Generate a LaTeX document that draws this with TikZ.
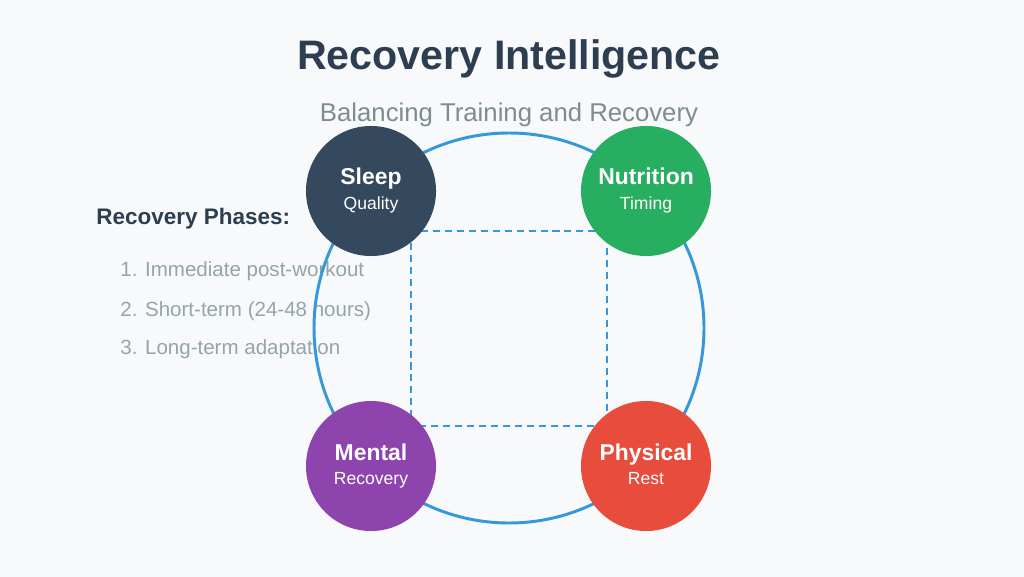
\documentclass[tikz,border=0pt]{standalone}
\usepackage{fontspec}
\setmainfont{Liberation Sans}
\definecolor{bgcol}{HTML}{F8F9FA}
\definecolor{darkcol}{HTML}{2C3E50}
\definecolor{greycol}{HTML}{7F8C8D}
\definecolor{listcol}{HTML}{95A5A6}
\definecolor{bluecol}{HTML}{3498DB}
\definecolor{sleepcol}{HTML}{34495E}
\definecolor{nutricol}{HTML}{27AE60}
\definecolor{mentalcol}{HTML}{8E44AD}
\definecolor{physcol}{HTML}{E74C3C}
\tikzset{
  pillar/.style={circle,minimum size=3.25cm,inner sep=0pt},
  phase/.style={anchor=west,text=listcol,font=\fontsize{14.6}{17}\selectfont}
}
\begin{document}
\begin{tikzpicture}[x=0.025cm,y=-0.025cm,line width=1pt]

  \fill[bgcol] (0,0) rectangle (1024,577);
  \useasboundingbox (0,0) rectangle (1024,577);

  \node[text=darkcol,font=\fontsize{29.3}{34}\selectfont\bfseries](title) at (509,59) {Recovery Intelligence};
  \node[text=greycol,font=\fontsize{18.3}{22}\selectfont](subtitle) at (509,115) {Balancing Training and Recovery};

  \node[anchor=west,text=darkcol,font=\fontsize{16}{19}\selectfont\bfseries](phases) at (91,219) {Recovery Phases:};
  \node[phase](p1) at (115,271) {1. Immediate post-workout};
  \node[phase](p2) at (115,311) {2. Short-term (24-48 hours)};
  \node[phase](p3) at (115,349) {3. Long-term adaptation};

  \draw[bluecol,line width=2.1pt] (509,328) circle (195);
  \draw[bluecol,line width=1.6pt,dash pattern=on 5pt off 3.5pt] (411,231) rectangle (607,426);

  \node[pillar,fill=sleepcol](sleep) at (371,191) {};
  \node[pillar,fill=nutricol](nutrition) at (646,191) {};
  \node[pillar,fill=mentalcol](mental) at (371,466) {};
  \node[pillar,fill=physcol](physical) at (646,466) {};

  \foreach \n/\a/\b in {sleep/Sleep/Quality,nutrition/Nutrition/Timing,mental/Mental/Recovery,physical/Physical/Rest}{
    \node[anchor=base,text=white,font=\fontsize{16.3}{19}\selectfont\bfseries] at ([yshift=0.15cm]\n.center) {\a};
    \node[anchor=base,text=white,font=\fontsize{12.5}{15}\selectfont] at ([yshift=-0.47cm]\n.center) {\b};
  }

\end{tikzpicture}
\end{document}
